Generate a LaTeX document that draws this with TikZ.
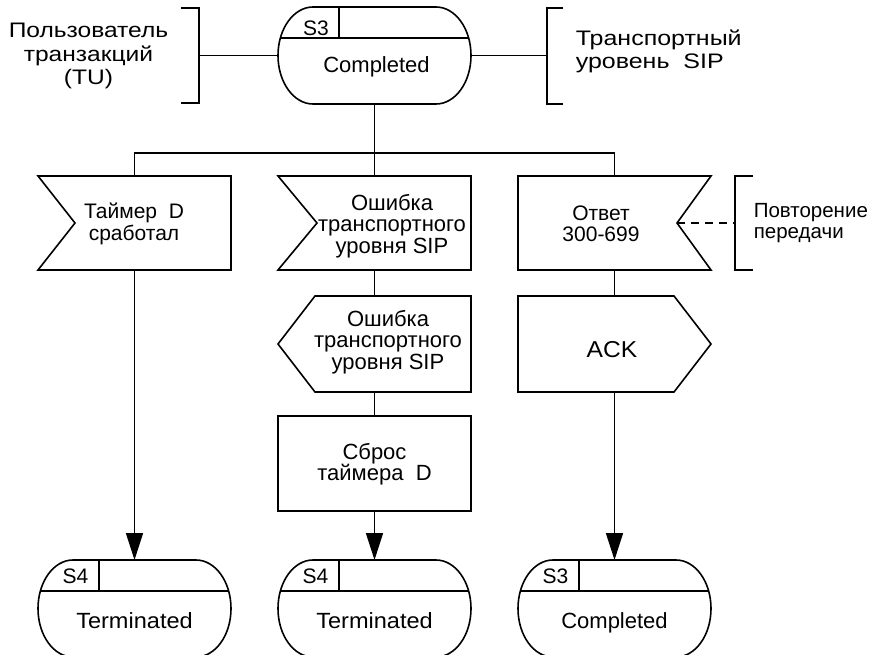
\documentclass[tikz,border=0pt]{standalone}
\usepackage{fontspec}
\setmainfont{Liberation Sans}
\usetikzlibrary{arrows.meta}

% State symbol: straight top/bottom, elliptic ends, number cell on the top left
\newcommand{\drawstate}[1]{%
  \draw ([xshift=35bp]#1.north west) -- ([xshift=-35bp]#1.north east)
    arc[start angle=90,end angle=-90,x radius=35bp,y radius=48.5bp]
    -- ([xshift=35bp]#1.south west)
    arc[start angle=270,end angle=90,x radius=35bp,y radius=48.5bp] -- cycle;
  \draw ([xshift=2.4bp,yshift=-31bp]#1.north west) -- ([xshift=-2.4bp,yshift=-31bp]#1.north east);
  \draw ([xshift=61bp]#1.north west) -- ([xshift=61bp,yshift=-31bp]#1.north west);
}
% horizontally widened text
\newcommand{\widetext}[2]{\scalebox{#1}[1]{#2}}

\begin{document}
\begin{tikzpicture}[x=1bp,y=-1bp,line width=1.6bp,
  txt/.style={font=\fontsize{21bp}{21.5bp}\selectfont,inner sep=0pt,align=center},
  big/.style={font=\fontsize{22bp}{21.5bp}\selectfont},
  lbl/.style={font=\fontsize{21bp}{23.5bp}\selectfont,inner sep=0pt},
  frame/.style={draw=none,inner sep=0pt,outer sep=0pt,minimum width=193bp},
  statefr/.style={frame,minimum height=97bp},
  arr/.style={-{Triangle[length=27bp,width=17bp]}},
  dashline/.style={dash pattern=on 8bp off 6bp}
]
\useasboundingbox (0,0) rectangle (878,655);

% ---- initial state ----
\node[statefr] (st0) at (374.5,55.5) {};
\drawstate{st0}
\node[txt,anchor=base] (st0n) at (316,36) {S3};
\node[txt,big,anchor=base] (st0t) at (376.5,73) {Completed};

% ---- environment brackets ----
\coordinate (brL) at (199,55.5);
\draw (181,8) -- (199,8) -- (199,103) -- (181,103);
\draw (brL) -- (st0.west);
\node[lbl,align=center] (tu) at (88.5,56) {\widetext{1.17}{Пользователь}\\\widetext{1.17}{транзакций}\\\widetext{1.17}{(TU)}};

\coordinate (brR) at (547,55.5);
\draw (563,8) -- (547,8) -- (547,104) -- (563,104);
\draw (st0.east) -- (brR);
\node[lbl,align=left,anchor=west] (sip) at (575,51.5) {\widetext{1.19}{Транспортный}\\\widetext{1.19}{уровень~~SIP}};

% ---- input signals ----
\node[frame,minimum height=94bp] (sig1) at (134.5,223) {};
\draw (sig1.north west) -- (sig1.north east) -- (sig1.south east) -- (sig1.south west)
  -- ([xshift=37bp]sig1.west) -- cycle;
\node[txt] (sig1t) at (134,224) {Таймер~~D\\сработал};

\node[frame,minimum height=94bp] (sig2) at (374.5,223) {};
\draw (sig2.north west) -- (sig2.north east) -- (sig2.south east) -- (sig2.south west)
  -- ([xshift=39bp]sig2.west) -- cycle;
\node[txt,big] (sig2t) at (392,226) {Ошибка\\транспортного\\уровня SIP};

\node[frame,minimum height=94bp] (sig3) at (614.5,223) {};
\coordinate (sig3n) at ([xshift=-34bp]sig3.east);
\draw (sig3.north west) -- (sig3.north east) -- (sig3n) -- (sig3.south east)
  -- (sig3.south west) -- cycle;
\node[txt] (sig3t) at (601,224) {Ответ\\300-699};

% retransmission bracket
\coordinate (brP) at (735,223);
\draw (753,176) -- (735,176) -- (735,270) -- (753,270);
\draw[dashline] (sig3n) -- (brP);
\node[lbl,align=left,anchor=west,font=\fontsize{20.5bp}{21bp}\selectfont] (rep) at (753,223) {Повторение\\передачи};

% ---- output signals ----
\node[frame,minimum height=96bp] (out2) at (374.5,344) {};
\draw ([xshift=37bp]out2.north west) -- (out2.north east) -- (out2.south east)
  -- ([xshift=37bp]out2.south west) -- (out2.west) -- cycle;
\node[txt,big] (out2t) at (388,342) {Ошибка\\транспортного\\уровня SIP};

\node[frame,minimum height=96bp] (ack) at (614.5,344) {};
\draw (ack.north west) -- ([xshift=-37bp]ack.north east) -- (ack.east)
  -- ([xshift=-37bp]ack.south east) -- (ack.south west) -- cycle;
\node[txt,font=\fontsize{23bp}{23bp}\selectfont] (ackt) at (612,350) {\widetext{1.07}{ACK}};

% ---- task ----
\node[frame,minimum height=95bp,draw] (reset) at (374.5,463.5) {};
\node[txt,big] (resett) at (374.5,464) {Сброс\\таймера~~D};

% ---- next states ----
\node[statefr] (st1) at (134.5,608.5) {};
\drawstate{st1}
\node[txt,anchor=base] (st1n) at (75.5,583) {S4};
\node[txt,big,anchor=base] (st1t) at (134.5,628) {\widetext{1.07}{Terminated}};

\node[statefr] (st2) at (374.5,608.5) {};
\drawstate{st2}
\node[txt,anchor=base] (st2n) at (315.5,583) {S4};
\node[txt,big,anchor=base] (st2t) at (374.5,628) {\widetext{1.07}{Terminated}};

\node[statefr] (st3) at (614.5,608.5) {};
\drawstate{st3}
\node[txt,anchor=base] (st3n) at (555.5,583) {S3};
\node[txt,big,anchor=base] (st3t) at (614.5,628) {Completed};

% ---- connectors ----
\coordinate (bus) at (374.5,153);
\draw (st0.south) -- (sig2.north);
\draw (sig1.north) |- (bus) -| (sig3.north);
\draw[arr] (sig1.south) -- (st1.north);
\draw (sig2.south) -- (out2.north);
\draw (out2.south) -- (reset.north);
\draw[arr] (reset.south) -- (st2.north);
\draw (sig3.south) -- (ack.north);
\draw[arr] (ack.south) -- (st3.north);
\end{tikzpicture}
\end{document}
